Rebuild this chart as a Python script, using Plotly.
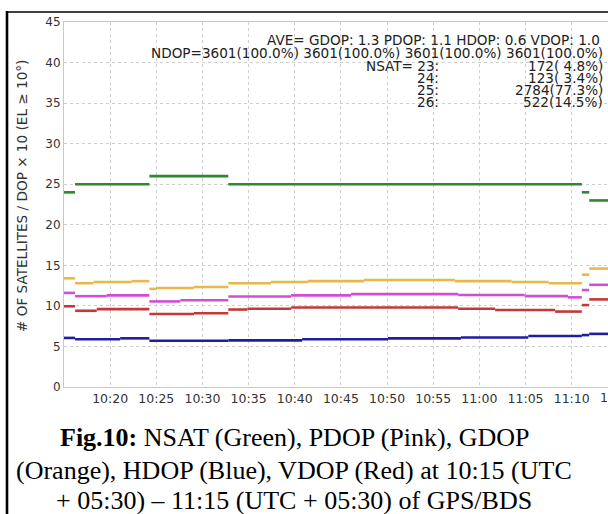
import datetime as dt
import plotly.graph_objects as go

DAY = "2024-01-01 "
END_TIME = "11:15:00"

# NSAT (green)
nsat_t = ["10:15:00", "10:16:12", "10:24:15", "10:32:48", "11:11:06", "11:11:54"]
nsat_v = [24, 25, 26, 25, 24, 23]

# GDOP x10 (orange)
gdop_t = ["10:15:00", "10:16:12", "10:18:12", "10:22:20", "10:24:15", "10:25:05", "10:29:05",
          "10:32:48", "10:37:25", "10:41:25", "10:47:30", "10:57:20", "11:03:30", "11:07:30",
          "11:11:06", "11:11:54"]
gdop_v = [13.4, 12.8, 12.95, 13.05, 12.1, 12.2, 12.33,
          12.8, 12.95, 13.05, 13.2, 13.05, 12.95, 12.8,
          13.85, 14.6]

# PDOP x10 (pink)
pdop_t = ["10:15:00", "10:16:12", "10:19:38", "10:24:15", "10:27:36", "10:32:48", "10:39:36",
          "10:46:06", "10:57:42", "11:04:54", "11:09:36", "11:11:06", "11:11:54"]
pdop_v = [11.6, 11.2, 11.3, 10.55, 10.7, 11.15, 11.3,
          11.45, 11.35, 11.2, 11.05, 11.95, 12.6]

# VDOP x10 (red)
vdop_t = ["10:15:00", "10:16:12", "10:18:33", "10:24:15", "10:29:05", "10:32:48", "10:34:52",
          "10:39:36", "10:57:42", "11:01:42", "11:08:12", "11:11:06", "11:11:54"]
vdop_v = [9.95, 9.4, 9.6, 9.0, 9.1, 9.55, 9.65,
          9.8, 9.65, 9.5, 9.3, 10.1, 10.8]

# HDOP x10 (blue)
hdop_t = ["10:15:00", "10:16:12", "10:21:05", "10:24:15", "10:32:48", "10:40:48", "10:50:06",
          "10:58:00", "11:05:18", "11:11:06", "11:11:54"]
hdop_v = [6.05, 5.88, 6.0, 5.7, 5.75, 5.88, 6.0,
          6.1, 6.28, 6.4, 6.55]

x_ticks = ["10:20", "10:25", "10:30", "10:35", "10:40", "10:45", "10:50",
           "10:55", "11:00", "11:05", "11:10"]
y_ticks = [0, 5, 10, 15, 20, 25, 30, 35, 40, 45]

ave_line = "AVE= GDOP: 1.3 PDOP: 1.1 HDOP: 0.6 VDOP: 1.0"
ndop_line = "NDOP=3601(100.0%) 3601(100.0%) 3601(100.0%) 3601(100.0%)"
nsat_labels = ["NSAT= 23:", "24:", "25:", "26:"]
nsat_counts = ["172( 4.8%)", "123( 3.4%)", "2784(77.3%)", "522(14.5%)"]

caption = ["<b>Fig.10:</b> NSAT (Green), PDOP (Pink), GDOP",
           "(Orange), HDOP (Blue), VDOP (Red) at 10:15 (UTC",
           "+ 05:30) – 11:15 (UTC + 05:30) of GPS/BDS"]

W, H = 608, 514
ML, MR, MT, MB = 64, 0, 22, 127
PW, PH = W - ML - MR, H - MT - MB

X_START = "10:15:00"
X_END = "11:13:56"


def ts(t):
    return DAY + t


def segs(times, vals):
    xs, ys = [], []
    bounds = times + [END_TIME]
    for i, v in enumerate(vals):
        xs += [ts(bounds[i]), ts(bounds[i + 1]), None]
        ys += [v, v, None]
    return xs, ys


def px_x(p):
    return (p - ML) / PW


def px_y(p):
    return (H - MB - p) / PH


fig = go.Figure()
series = [
    (nsat_t, nsat_v, "#2b8a2b", "NSAT"),
    (gdop_t, gdop_v, "#e8b848", "GDOP"),
    (pdop_t, pdop_v, "#d04ed6", "PDOP"),
    (vdop_t, vdop_v, "#c43838", "VDOP"),
    (hdop_t, hdop_v, "#1e1e9e", "HDOP"),
]
for t, v, c, name in series:
    xs, ys = segs(t, v)
    fig.add_trace(go.Scatter(x=xs, y=ys, mode="lines", name=name,
                             line=dict(color=c, width=2.6), connectgaps=False,
                             hoverinfo="skip"))

tickfont = dict(family="DejaVu Sans", size=12.5, color="#333333")
fig.update_xaxes(
    range=[ts(X_START), ts(X_END)],
    tickvals=[ts(x + ":00") for x in x_ticks], ticktext=x_ticks,
    showgrid=True, gridcolor="#cfcfcf", griddash="dot", gridwidth=1,
    showline=True, linecolor="#c8c8c8", linewidth=1, mirror=True,
    zeroline=False, ticks="", tickfont=tickfont,
)
fig.update_yaxes(
    range=[0, 45], tickvals=y_ticks,
    showgrid=True, gridcolor="#cfcfcf", griddash="dot", gridwidth=1,
    showline=True, linecolor="#c8c8c8", linewidth=1,
    zeroline=False, ticks="", tickfont=dict(family="DejaVu Sans", size=12, color="#333333"),
)

anns = []
# partial tick label beyond the visible range
t0 = dt.datetime.fromisoformat(ts(X_START))
t1 = dt.datetime.fromisoformat(ts(X_END))
tl = dt.datetime.fromisoformat(ts("11:15:00"))
anns.append(dict(x=(tl - t0) / (t1 - t0), y=0, xref="paper", yref="paper",
                 text="11:15", showarrow=False, xanchor="center", yanchor="top",
                 yshift=-1, font=tickfont))

# y axis title
anns.append(dict(x=px_x(22), y=px_y(196), xref="paper", yref="paper",
                 text="# OF SATELLITES / DOP × 10 (EL ≥ 10°)", textangle=-90,
                 showarrow=False, xanchor="center", yanchor="middle",
                 font=dict(family="DejaVu Sans", size=13.6, color="#333333")))

sfont = dict(family="DejaVu Sans", size=13.6, color="#222222")
anns.append(dict(x=px_x(602), y=px_y(40.5), xref="paper", yref="paper", text=ave_line,
                 showarrow=False, xanchor="right", yanchor="middle", font=sfont))
anns.append(dict(x=px_x(605), y=px_y(53), xref="paper", yref="paper", text=ndop_line,
                 showarrow=False, xanchor="right", yanchor="middle", font=sfont))
row_y = [65.5, 78, 90, 102]
for lab, cnt, yy in zip(nsat_labels, nsat_counts, row_y):
    anns.append(dict(x=px_x(441), y=px_y(yy), xref="paper", yref="paper", text=lab,
                     showarrow=False, xanchor="right", yanchor="middle", font=sfont))
    anns.append(dict(x=px_x(605), y=px_y(yy), xref="paper", yref="paper", text=cnt,
                     showarrow=False, xanchor="right", yanchor="middle", font=sfont))

cap_font = dict(family="Liberation Serif", size=26, color="#000000")
for line, yy in zip(caption, [437, 470, 500]):
    anns.append(dict(x=px_x(294), y=px_y(yy), xref="paper", yref="paper", text=line,
                     showarrow=False, xanchor="center", yanchor="middle", font=cap_font))

shapes = [
    dict(type="line", xref="paper", yref="paper", x0=px_x(7), x1=px_x(7),
         y0=px_y(11), y1=px_y(530), line=dict(color="#000000", width=2.6)),
    dict(type="line", xref="paper", yref="paper", x0=px_x(6), x1=px_x(620),
         y0=px_y(12), y1=px_y(12), line=dict(color="#000000", width=1.6)),
]

fig.update_layout(
    width=W, height=H, margin=dict(l=ML, r=MR, t=MT, b=MB),
    paper_bgcolor="white", plot_bgcolor="white", showlegend=False,
    annotations=anns, shapes=shapes,
)
fig.write_html("out.html")
